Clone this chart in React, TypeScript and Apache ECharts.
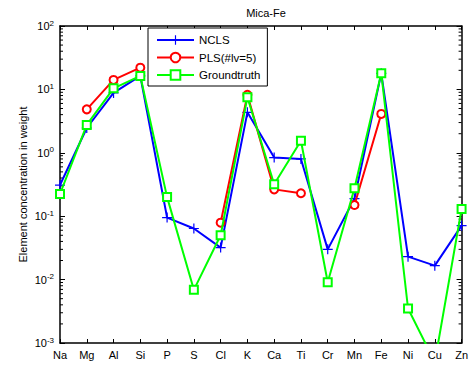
import React, { useEffect, useRef } from "react";
import * as echarts from "echarts";

const categories = ["Na", "Mg", "Al", "Si", "P", "S", "Cl", "K", "Ca", "Ti", "Cr", "Mn", "Fe", "Ni", "Cu", "Zn"];
const nclsValues = [0.31, 2.46, 8.8, 16.3, 0.095, 0.064, 0.032, 4.35, 0.84, 0.8, 0.03, 0.19, 17.9, 0.023, 0.0166, 0.071];
const plsValues = [null, 4.85, 14.1, 22, null, null, 0.079, 8.2, 0.265, 0.23, null, 0.15, 4.1, null, null, null];
const truthValues = [0.224, 2.75, 10.4, 16.3, 0.2, 0.0069, 0.05, 7.5, 0.32, 1.55, 0.0091, 0.275, 18, 0.0035, 0.0005, 0.13];
const decades = [0.001, 0.01, 0.1, 1, 10];
const minorMultipliers = [2, 3, 4, 5, 6, 7, 8, 9];

const FONT = "Liberation Sans, Arial, sans-serif";
const PLUS = "path://M0,4.4H10V5.6H0Z M4.4,0H5.6V10H4.4Z";

export default function App() {
  const ref = useRef<HTMLDivElement>(null);
  useEffect(() => {
    if (!ref.current) return;
    const chart = echarts.init(ref.current, null, { renderer: "svg" });
    const minorTicks: number[] = [];
    decades.forEach((d) => minorMultipliers.forEach((m) => minorTicks.push(+(d * m).toPrecision(3))));
    const lastIdx = categories.length - 1;
    chart.setOption({
      animation: false,
      backgroundColor: "#fff",
      textStyle: { fontFamily: FONT },
      title: {
        text: "Mica-Fe",
        left: 261,
        textAlign: "center",
        top: 2,
        textStyle: { fontFamily: FONT, fontSize: 11, fontWeight: "normal", color: "#000" },
      },
      legend: {
        orient: "vertical",
        left: 148,
        top: 28,
        data: ["NCLS", "PLS(#lv=5)", "Groundtruth"],
        itemWidth: 37,
        itemHeight: 12,
        itemGap: 5.5,
        padding: [6, 7, 5, 8],
        borderColor: "#000",
        borderWidth: 1,
        backgroundColor: "#fff",
        textStyle: { fontFamily: FONT, fontSize: 11.5, color: "#000" },
      },
      grid: { left: 60, right: 8, top: 26, bottom: 24, containLabel: false },
      xAxis: [
        {
          type: "category",
          data: categories,
          boundaryGap: false,
          axisLine: { lineStyle: { color: "#000", width: 1.5 } },
          axisTick: { inside: true, length: 4, alignWithLabel: true, lineStyle: { color: "#000" } },
          axisLabel: { color: "#000", fontFamily: FONT, fontSize: 11, margin: 6, interval: 0 },
          splitLine: { show: false },
        },
        {
          type: "category",
          data: categories,
          position: "top",
          boundaryGap: false,
          axisLine: { lineStyle: { color: "#000", width: 1.5 } },
          axisTick: { inside: true, length: 4, lineStyle: { color: "#000" } },
          axisLabel: { show: false },
          splitLine: { show: false },
        },
      ],
      yAxis: [
        {
          type: "log",
          logBase: 10,
          min: 0.001,
          max: 100,
          splitNumber: 5,
          name: "Element concentration in weight",
          nameLocation: "middle",
          nameGap: 32,
          nameMoveOverlap: false,
          nameTextStyle: { fontFamily: FONT, fontSize: 11, color: "#000" },
          axisLine: { show: true, lineStyle: { color: "#000", width: 1.5 } },
          axisTick: { show: true, inside: true, length: 5, lineStyle: { color: "#000" } },
          axisLabel: {
            margin: 6,
            formatter: (v: number) => `{b|10}{e|${Math.round(Math.log10(v))}}`,
            rich: {
              b: { fontFamily: FONT, fontSize: 11, color: "#000" },
              e: { fontFamily: FONT, fontSize: 8, color: "#000", verticalAlign: "top", padding: [0, 0, 6, 0] },
            },
          },
          splitLine: { show: false },
        },
        {
          type: "log",
          logBase: 10,
          min: 0.001,
          max: 100,
          splitNumber: 5,
          position: "right",
          axisLine: { show: true, lineStyle: { color: "#000", width: 1.5 } },
          axisTick: { show: true, inside: true, length: 5, lineStyle: { color: "#000" } },
          axisLabel: { show: false },
          splitLine: { show: false },
        },
      ],
      series: [
        {
          type: "custom",
          name: "minorTicks",
          silent: true,
          clip: false,
          data: minorTicks.map((v) => [0, v]),
          renderItem: (params: any, api: any) => {
            const v = api.value(1);
            const l = api.coord([0, v]);
            const r = api.coord([lastIdx, v]);
            return {
              type: "group",
              children: [
                { type: "line", shape: { x1: l[0], y1: l[1], x2: l[0] + 3, y2: l[1] }, style: { stroke: "#000", lineWidth: 1 } },
                { type: "line", shape: { x1: r[0] - 3, y1: r[1], x2: r[0], y2: r[1] }, style: { stroke: "#000", lineWidth: 1 } },
              ],
            };
          },
          z: 1,
        },
        {
          type: "line",
          name: "NCLS",
          data: nclsValues,
          color: "#0000ff",
          symbol: PLUS,
          symbolSize: 10,
          showAllSymbol: true,
          lineStyle: { width: 2, color: "#0000ff" },
          itemStyle: { color: "#0000ff" },
          z: 3,
        },
        {
          type: "line",
          name: "PLS(#lv=5)",
          data: plsValues,
          color: "#ff0000",
          connectNulls: false,
          symbol: "emptyCircle",
          symbolSize: 8,
          showAllSymbol: true,
          lineStyle: { width: 2, color: "#ff0000" },
          itemStyle: { color: "#ff0000", borderWidth: 1.5 },
          z: 4,
        },
        {
          type: "line",
          name: "Groundtruth",
          data: truthValues,
          color: "#00ff00",
          symbol: "emptyRect",
          symbolSize: 8,
          showAllSymbol: true,
          lineStyle: { width: 2, color: "#00ff00" },
          itemStyle: { color: "#00ff00", borderWidth: 1.5 },
          z: 5,
        },
      ],
    });
    return () => chart.dispose();
  }, []);
  return <div ref={ref} style={{ width: 471, height: 367, position: "absolute", left: 0, top: 0 }} />;
}
